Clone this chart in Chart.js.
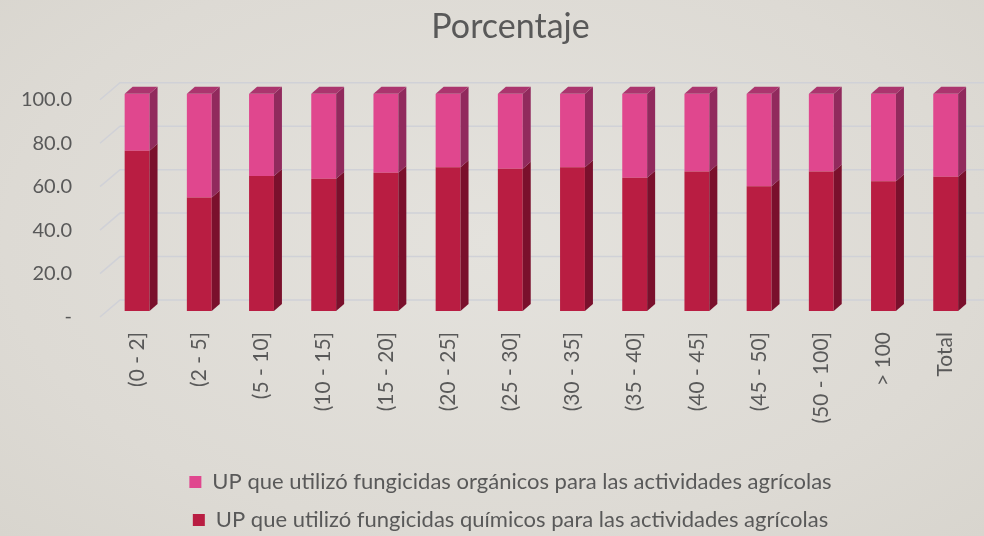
<!DOCTYPE html>
<html>
<head>
<meta charset="utf-8">
<script src="https://cdn.jsdelivr.net/npm/chart.js@4.4.1/dist/chart.umd.min.js"></script>
<style>
  html, body { margin: 0; padding: 0; }
  body { width: 984px; height: 536px; background: radial-gradient(ellipse at 50% 45%, #e4e2dd 0%, #dddad4 70%, #d8d5ce 100%); }
  canvas { display: block; }
</style>
</head>
<body>
<canvas id="chart" width="984" height="536"></canvas>
<script>
// Data
const categories = ['(0 - 2]', '(2 - 5]', '(5 - 10]', '(10 - 15]', '(15 - 20]', '(20 - 25]', '(25 - 30]',
    '(30 - 35]', '(35 - 40]', '(40 - 45]', '(45 - 50]', '(50 - 100]', '> 100', 'Total'];
const quimicos = [73.8, 52.3, 62.2, 60.9, 63.7, 66.2, 65.5, 66.2, 61.4, 64.2, 57.4, 64.2, 59.7, 61.8];
const organicos = [26.2, 47.7, 37.8, 39.1, 36.3, 33.8, 34.5, 33.8, 38.6, 35.8, 42.6, 35.8, 40.3, 38.2];
const yTicks = [0, 20, 40, 60, 80, 100];

const textColor = '#595959';
const pink = { front: '#e0478e', side: '#912a5d', top: '#ab356e' };
const crimson = { front: '#b91d42', side: '#7a102c', top: '#951633' };
const fontFamily = 'Lato, "Open Sans", sans-serif';

// fake 3D: side + top faces of every bar, back wall gridlines
const depth = { dx: 8, dy: 7 };
const bar3d = {
    id: 'bar3d',
    afterLayout(chart) {
        // title and legend sit centred a bit right of the canvas middle
        chart.titleBlock.left += 40;
        chart.legend.left += 40;
    },
    beforeDatasetsDraw(chart) {
        const { ctx, chartArea, scales: { y } } = chart;
        ctx.save();
        ctx.strokeStyle = '#d0d1d7';
        ctx.lineWidth = 1.5;
        yTicks.forEach(v => {
            const py = y.getPixelForValue(v);
            ctx.beginPath();
            ctx.moveTo(chartArea.left - 6, py + 6);
            ctx.lineTo(chartArea.left + 14, py - 11);
            ctx.lineTo(984, py - 11);
            ctx.stroke();
        });
        ctx.restore();
    },
    afterDatasetsDraw(chart) {
        const { ctx } = chart;
        const n = chart.data.datasets.length;
        ctx.save();
        chart.data.datasets.forEach((ds, di) => {
            const meta = chart.getDatasetMeta(di);
            const col = di === 0 ? crimson : pink;
            meta.data.forEach(el => {
                const { x, y, base, width } = el.getProps(['x', 'y', 'base', 'width'], true);
                const l = x - width / 2, r = x + width / 2;
                ctx.fillStyle = col.side;
                ctx.beginPath();
                ctx.moveTo(r, y);
                ctx.lineTo(r + depth.dx, y - depth.dy);
                ctx.lineTo(r + depth.dx, base - depth.dy);
                ctx.lineTo(r, base);
                ctx.closePath();
                ctx.fill();
                if (di === n - 1) {
                    ctx.fillStyle = col.top;
                    ctx.beginPath();
                    ctx.moveTo(l, y);
                    ctx.lineTo(l + depth.dx, y - depth.dy);
                    ctx.lineTo(r + depth.dx, y - depth.dy);
                    ctx.lineTo(r, y);
                    ctx.closePath();
                    ctx.fill();
                }
            });
        });
        ctx.restore();
    }
};

new Chart(document.getElementById('chart').getContext('2d'), {
    type: 'bar',
    data: {
        labels: categories,
        datasets: [
            {
                label: 'UP que utilizó fungicidas químicos para las actividades agrícolas',
                data: quimicos,
                backgroundColor: crimson.front,
                borderWidth: 0
            },
            {
                label: 'UP que utilizó fungicidas orgánicos para las actividades agrícolas',
                data: organicos,
                backgroundColor: pink.front,
                borderWidth: 0
            }
        ]
    },
    options: {
        responsive: false,
        animation: false,
        layout: { padding: { left: 0, right: 3, top: 0, bottom: -5 } },
        datasets: { bar: { categoryPercentage: 1, barPercentage: 0.4 } },
        scales: {
            x: {
                stacked: true,
                grid: { display: false },
                border: { display: false },
                ticks: { color: textColor, font: { family: fontFamily, size: 21 }, maxRotation: 90, minRotation: 90, autoSkip: false, padding: 13 },
                afterFit(scale) { scale.height = 144; }
            },
            y: {
                stacked: true,
                min: 0,
                max: 100,
                grid: { display: false },
                border: { display: false },
                afterBuildTicks(scale) { scale.ticks = yTicks.map(v => ({ value: v })); },
                ticks: {
                    color: textColor,
                    font: { family: fontFamily, size: 20 },
                    padding: 26,
                    labelOffset: 6,
                    callback: v => v === 0 ? '-' : v.toFixed(1)
                },
                afterFit(scale) { scale.width = 106; }
            }
        },
        plugins: {
            title: {
                display: true,
                text: 'Porcentaje',
                color: textColor,
                font: { family: fontFamily, size: 34, weight: 'normal' },
                padding: { top: 7, bottom: 46 }
            },
            legend: {
                position: 'bottom',
                reverse: true,
                labels: { color: textColor, font: { family: fontFamily, size: 22 }, boxWidth: 12, boxHeight: 12, padding: 16 }
            },
            tooltip: { enabled: false }
        }
    },
    plugins: [bar3d]
});
</script>
</body>
</html>
